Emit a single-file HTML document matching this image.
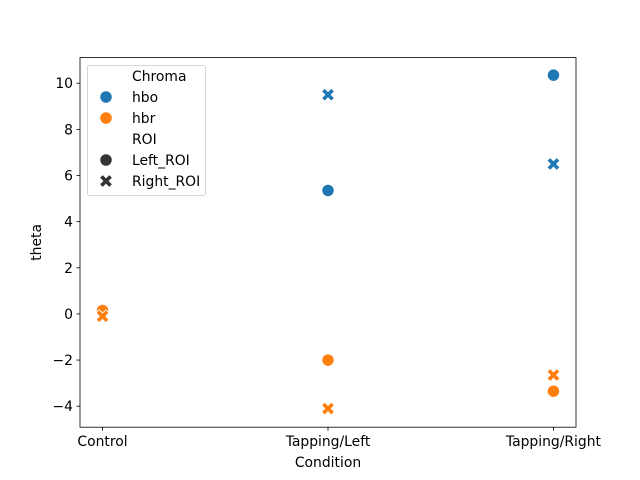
<!DOCTYPE html>
<html><head><meta charset="utf-8"><style>body{margin:0;background:#fff}svg{display:block;font-family:"DejaVu Sans","Liberation Sans",sans-serif}</style></head>
<body>
<svg id="c" width="640" height="480" viewBox="0 0 640 480"></svg>
<script>
const categories=["Control","Tapping/Left","Tapping/Right"];
const hboLeft=[0.1,5.35,10.35];
const hboRight=[-0.1,9.5,6.5];
const hbrLeft=[0.15,-2.0,-3.35];
const hbrRight=[-0.1,-4.1,-2.65];
const yTicks=[-4,-2,0,2,4,6,8,10];
const NS="http://www.w3.org/2000/svg";
const svg=document.getElementById('c');
const L=80,R=576,T=57.6,B=427.2,ymin=-4.91,ymax=11.11;
const FS=13.9;
const xs=i=>L+(i+0.1)/2.2*(R-L);
const ys=v=>B-(v-ymin)/(ymax-ymin)*(B-T);
function el(tag,a,p){const e=document.createElementNS(NS,tag);for(const k in a)e.setAttribute(k,a[k]);(p||svg).appendChild(e);return e;}
function txt(s,a,p){const e=el('text',a,p);e.textContent=s;return e;}
const ax=el('g',{});
yTicks.forEach(v=>{const y=ys(v);el('line',{x1:L-3.5,x2:L,y1:y,y2:y,stroke:'#000','stroke-width':0.8},ax);
const t=txt(String(v).replace('-','−'),{x:L-7,y:y+5,'font-size':FS,'text-anchor':'end'},ax);});
categories.forEach((c,i)=>{const x=xs(i);el('line',{x1:x,x2:x,y1:B,y2:B+3.5,stroke:'#000','stroke-width':0.8},ax);
const t=txt(c,{x:x,y:B+19,'font-size':FS,'text-anchor':'middle'},ax);});
const xt=txt('Condition',{x:(L+R)/2,y:467,'font-size':FS,'text-anchor':'middle'});
const yt=txt('theta',{x:0,y:0,'font-size':FS,'text-anchor':'middle',transform:`translate(41,${(T+B)/2}) rotate(-90)`});
function circ(x,y,col,p){return el('circle',{cx:x,cy:y,r:6.2,fill:col,stroke:'#fff','stroke-width':0.9},p);}
function cross(x,y,col,p){const s=6.5,w=3.2;const d=`M${x-s} ${y-s+w}L${x-s+w} ${y-s}L${x} ${y-w}L${x+s-w} ${y-s}L${x+s} ${y-s+w}L${x+w} ${y}L${x+s} ${y+s-w}L${x+s-w} ${y+s}L${x} ${y+w}L${x-s+w} ${y+s}L${x-s} ${y+s-w}L${x-w} ${y}Z`;return el('path',{d:d,fill:col,stroke:'#fff','stroke-width':0.9},p);}
const BLUE='#1f77b4',ORANGE='#ff7f0e';
const pts=el('g',{});
[[hboLeft,BLUE,circ,'hbo-left'],[hboRight,BLUE,cross,'hbo-right'],[hbrLeft,ORANGE,circ,'hbr-left'],[hbrRight,ORANGE,cross,'hbr-right']].forEach(([arr,col,f,n])=>{
arr.forEach((v,i)=>{const m=f(xs(i),ys(v),col,pts);});});
el('rect',{x:L,y:T,width:R-L,height:B-T,fill:'none',stroke:'#000','stroke-width':0.8});
const lg=el('g',{});
el('rect',{x:87.5,y:65.5,width:118,height:130,rx:2,fill:'#fff','fill-opacity':0.8,stroke:'#ccc','stroke-width':0.8},lg);
const items=[['Chroma',null],['hbo','cb'],['hbr','co'],['ROI',null],['Left_ROI','cd'],['Right_ROI','xd']];
items.forEach(([s,m],i)=>{const y=76+i*21;
if(m==='cb')circ(106,y,BLUE,lg);if(m==='co')circ(106,y,ORANGE,lg);if(m==='cd')circ(106,y,'#333',lg);if(m==='xd')cross(106,y,'#333',lg);
const t=txt(s,{x:132,y:y+5,'font-size':FS},lg);});
</script>
</body></html>
